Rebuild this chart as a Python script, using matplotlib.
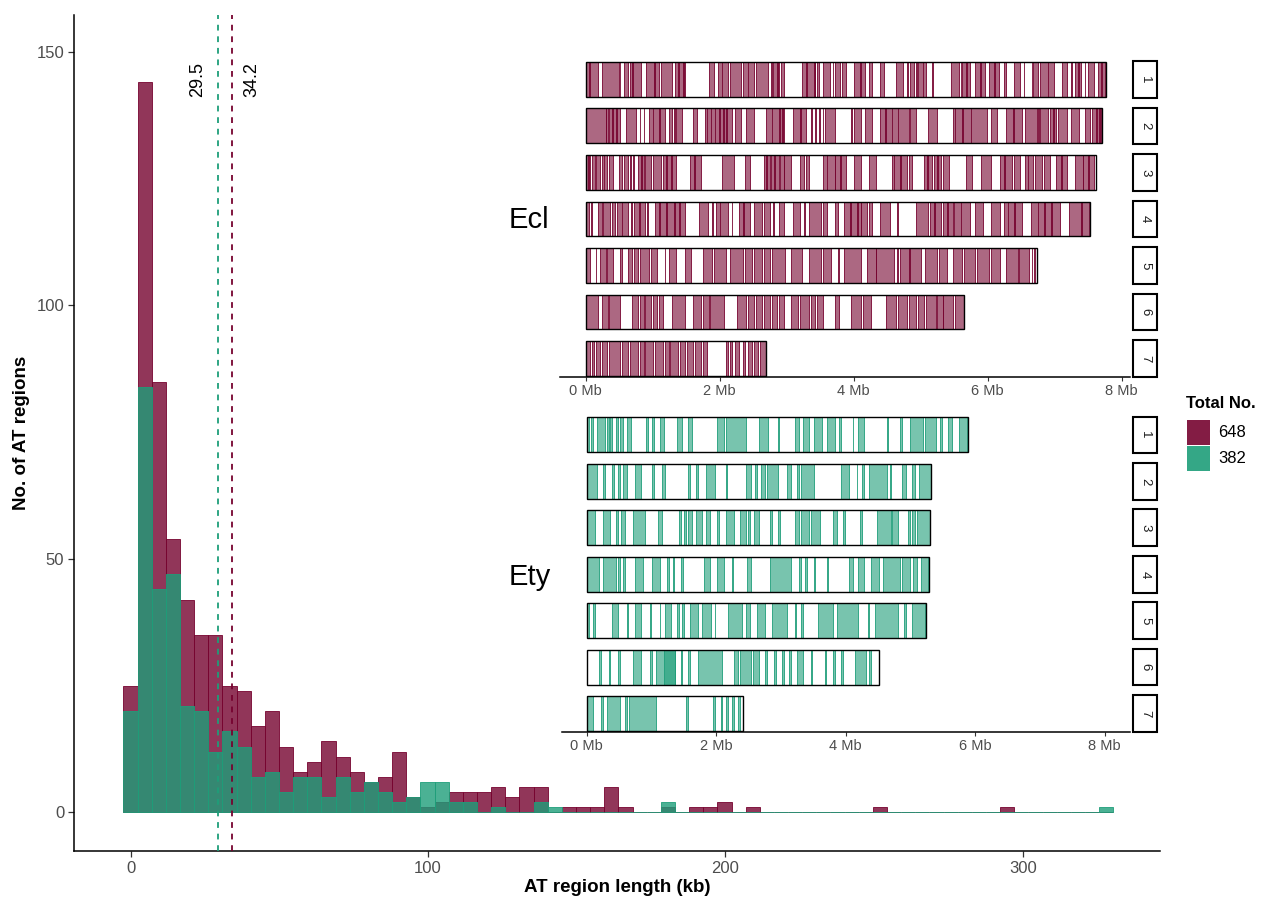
import numpy as np
import matplotlib
matplotlib.use("Agg")
import matplotlib.pyplot as plt
from matplotlib.patches import Rectangle
from matplotlib.colors import to_rgba
from matplotlib import transforms

plt.rcParams['font.family'] = ['Liberation Sans', 'DejaVu Sans']

# ---------------- data ----------------
MAROON = "#76032F"
GREEN = "#1E9E79"

bin_width = 4.754  # kb
ecl_counts = [25, 144, 85, 54, 42, 35, 35, 25, 24, 17,
              20, 13, 8, 10, 14, 11, 8, 6, 7, 12,
              3, 1, 2, 4, 4, 4, 5, 3, 5, 5,
              0, 1, 1, 1, 5, 1, 0, 0, 1, 0,
              1, 1, 2, 0, 1, 0, 0, 0, 0, 0,
              0, 0, 0, 1, 0, 0, 0, 0, 0, 0,
              0, 0, 1, 0, 0, 0, 0, 0, 0, 0]
ety_counts = [20, 84, 44, 47, 21, 20, 12, 16, 13, 7,
              8, 4, 7, 7, 3, 7, 4, 6, 4, 2,
              3, 6, 6, 2, 2, 0, 1, 0, 0, 2,
              1, 0, 0, 0, 0, 0, 0, 0, 2, 0,
              0, 0, 0, 0, 0, 0, 0, 0, 0, 0,
              0, 0, 0, 0, 0, 0, 0, 0, 0, 0,
              0, 0, 0, 0, 0, 0, 0, 0, 0, 1]
mean_ety = 29.5
mean_ecl = 34.2
legend_totals = ["648", "382"]

# chromosome lengths (Mb)
ecl_lengths = [7.77, 7.71, 7.62, 7.53, 6.74, 5.65, 2.69]
ety_lengths = [5.89, 5.32, 5.30, 5.29, 5.24, 4.52, 2.42]

# AT-rich regions (start, end) in Mb, per chromosome
ecl_chr1 = [(0.01, 0.18), (0.05, 0.06), (0.24, 0.50), (0.51, 0.52), (0.58, 0.63), (0.67, 0.83), (0.70, 0.71),
            (0.91, 1.09), (1.02, 1.03), (1.12, 1.29), (1.33, 1.49), (1.38, 1.39), (1.46, 1.47), (1.85, 1.92),
            (1.98, 2.12), (2.03, 2.04), (2.15, 2.32), (2.35, 2.51), (2.42, 2.43), (2.55, 2.72), (2.77, 2.79),
            (2.80, 2.89), (2.86, 2.87), (2.92, 2.97), (3.23, 3.43), (3.29, 3.30), (3.41, 3.42), (3.46, 3.48),
            (3.54, 3.65), (3.69, 3.70), (3.72, 3.80), (3.83, 3.89), (4.00, 4.17), (4.10, 4.11), (4.23, 4.28),
            (4.40, 4.46), (4.63, 4.74), (4.80, 4.81), (4.85, 4.91), (4.94, 4.95), (4.97, 5.08), (5.03, 5.04),
            (5.17, 5.18), (5.45, 5.57), (5.60, 5.61), (5.62, 5.74), (5.68, 5.69), (5.81, 5.97), (5.89, 5.90),
            (6.02, 6.17), (6.10, 6.11), (6.25, 6.28), (6.39, 6.48), (6.54, 6.55), (6.66, 6.67), (6.68, 6.76),
            (6.79, 6.99), (6.90, 6.91), (7.11, 7.19), (7.25, 7.26), (7.30, 7.39), (7.35, 7.36), (7.45, 7.46),
            (7.50, 7.59), (7.65, 7.76), (7.70, 7.71)]
ecl_chr2 = [(0.01, 0.30), (0.31, 0.34), (0.35, 0.52), (0.40, 0.41), (0.46, 0.47), (0.61, 0.75), (0.81, 0.82),
            (0.87, 0.88), (0.95, 1.18), (1.00, 1.01), (1.10, 1.11), (1.24, 1.29), (1.32, 1.33), (1.35, 1.44),
            (1.61, 1.66), (1.78, 2.18), (1.81, 1.82), (1.87, 1.88), (1.93, 1.94), (1.99, 2.00), (2.05, 2.06),
            (2.10, 2.11), (2.23, 2.32), (2.40, 2.52), (2.69, 2.97), (2.78, 2.79), (2.89, 2.90), (2.94, 2.95),
            (3.09, 3.29), (3.20, 3.21), (3.37, 3.38), (3.43, 3.44), (3.49, 3.50), (3.54, 3.55), (3.57, 3.72),
            (3.97, 3.98), (4.00, 4.11), (4.17, 4.28), (4.40, 4.83), (4.47, 4.48), (4.57, 4.58), (4.66, 4.67),
            (4.85, 4.94), (5.11, 5.25), (5.48, 5.99), (5.51, 5.52), (5.62, 5.63), (5.75, 5.76), (6.05, 6.14),
            (6.28, 6.51), (6.38, 6.39), (6.56, 6.74), (6.76, 6.77), (6.79, 6.91), (6.93, 7.02), (6.98, 6.99),
            (7.05, 7.19), (7.25, 7.36), (7.45, 7.53), (7.56, 7.70), (7.62, 7.63), (7.67, 7.68)]
ecl_chr3 = [(0.01, 0.07), (0.04, 0.05), (0.10, 0.14), (0.15, 0.21), (0.24, 0.32), (0.27, 0.28), (0.35, 0.41),
            (0.50, 0.55), (0.58, 0.64), (0.67, 0.68), (0.71, 0.73), (0.78, 0.87), (0.83, 0.84), (0.89, 0.98),
            (1.01, 1.12), (1.15, 1.35), (1.20, 1.21), (1.28, 1.29), (1.56, 1.72), (1.62, 1.63), (2.03, 2.21),
            (2.38, 2.46), (2.66, 2.75), (2.70, 2.71), (2.77, 2.89), (2.82, 2.83), (2.91, 2.97), (2.97, 3.06),
            (3.20, 3.26), (3.29, 3.34), (3.54, 3.72), (3.60, 3.61), (3.72, 3.89), (3.80, 3.81), (4.00, 4.11),
            (4.23, 4.34), (4.57, 4.80), (4.60, 4.61), (4.70, 4.71), (4.83, 4.88), (5.05, 5.17), (5.10, 5.11),
            (5.20, 5.31), (5.25, 5.26), (5.34, 5.42), (5.68, 5.77), (5.91, 6.05), (6.19, 6.36), (6.25, 6.26),
            (6.39, 6.48), (6.56, 6.68), (6.60, 6.61), (6.71, 6.82), (6.85, 6.93), (7.02, 7.19), (7.10, 7.11),
            (7.30, 7.42), (7.42, 7.59), (7.50, 7.51)]
ecl_chr4 = [(0.00, 0.05), (0.08, 0.10), (0.18, 0.24), (0.26, 0.36), (0.40, 0.44), (0.47, 0.64), (0.54, 0.55),
            (0.68, 0.69), (0.72, 0.89), (0.80, 0.81), (0.92, 0.93), (1.04, 1.49), (1.10, 1.11), (1.20, 1.21),
            (1.32, 1.33), (1.40, 1.41), (1.69, 1.83), (1.89, 1.90), (1.95, 2.12), (2.00, 2.01), (2.18, 2.19),
            (2.29, 2.46), (2.35, 2.36), (2.52, 2.63), (2.66, 2.75), (2.80, 2.81), (2.89, 2.97), (3.09, 3.20),
            (3.26, 3.27), (3.34, 3.52), (3.54, 3.60), (3.72, 3.77), (3.86, 4.11), (3.95, 3.96), (4.05, 4.06),
            (4.11, 4.20), (4.23, 4.28), (4.40, 4.54), (4.65, 4.66), (4.94, 5.11), (5.14, 5.30), (5.20, 5.21),
            (5.33, 5.48), (5.40, 5.41), (5.50, 5.74), (5.60, 5.61), (5.82, 5.94), (6.05, 6.19), (6.25, 6.51),
            (6.30, 6.31), (6.40, 6.41), (6.65, 7.08), (6.75, 6.76), (6.85, 6.86), (6.95, 6.96), (7.22, 7.52),
            (7.40, 7.41)]
ecl_chr5 = [(0.00, 0.07), (0.15, 0.16), (0.21, 0.30), (0.32, 0.41), (0.52, 0.54), (0.64, 0.70), (0.72, 0.78),
            (0.81, 0.95), (0.98, 1.07), (1.18, 1.19), (1.24, 1.35), (1.49, 1.58), (1.75, 1.89), (1.92, 2.09),
            (2.15, 2.35), (2.38, 2.49), (2.52, 2.63), (2.66, 2.75), (2.78, 2.98), (3.06, 3.23), (3.34, 3.52),
            (3.54, 3.66), (3.77, 3.78), (3.86, 4.11), (4.20, 4.34), (4.34, 4.60), (4.65, 4.66), (4.70, 4.84),
            (4.83, 5.00), (5.06, 5.25), (5.28, 5.40), (5.48, 5.62), (5.65, 5.82), (5.85, 6.02), (6.05, 6.19),
            (6.27, 6.45), (6.47, 6.62), (6.66, 6.67), (6.70, 6.71)]
ecl_chr6 = [(0.00, 0.18), (0.24, 0.33), (0.35, 0.52), (0.70, 0.78), (0.81, 0.87), (0.89, 0.98), (1.01, 1.07),
            (1.09, 1.15), (1.29, 1.49), (1.61, 1.72), (1.75, 1.84), (1.86, 2.06), (2.26, 2.40), (2.43, 2.52),
            (2.55, 2.63), (2.66, 2.75), (2.78, 2.86), (2.89, 2.97), (3.06, 3.17), (3.20, 3.34), (3.37, 3.43),
            (3.46, 3.54), (3.72, 3.78), (3.97, 4.11), (4.14, 4.26), (4.48, 4.63), (4.66, 4.80), (4.83, 4.94),
            (4.97, 5.05), (5.08, 5.23), (5.25, 5.34), (5.34, 5.48), (5.51, 5.65)]
ecl_chr7 = [(0.00, 0.07), (0.10, 0.12), (0.15, 0.21), (0.24, 0.32), (0.35, 0.52), (0.55, 0.64), (0.67, 0.78),
            (0.81, 0.87), (0.89, 1.01), (1.04, 1.15), (1.18, 1.24), (1.26, 1.38), (1.41, 1.49), (1.52, 1.61),
            (1.64, 1.72), (1.75, 1.82), (2.09, 2.12), (2.15, 2.18), (2.23, 2.29), (2.35, 2.38), (2.43, 2.49),
            (2.52, 2.58), (2.60, 2.69)]

ety_chr1 = [(0.01, 0.04), (0.07, 0.10), (0.16, 0.28), (0.31, 0.34), (0.37, 0.39), (0.45, 0.48), (0.51, 0.57),
            (0.63, 0.69), (0.92, 0.95), (1.01, 1.04), (1.13, 1.19), (1.40, 1.48), (1.57, 1.63), (2.01, 2.13),
            (2.16, 2.46), (2.66, 2.81), (2.96, 2.97), (3.22, 3.28), (3.34, 3.43), (3.52, 3.64), (3.72, 3.84),
            (3.90, 3.93), (4.11, 4.12), (4.19, 4.28), (4.64, 4.65), (4.84, 4.87), (4.99, 5.20), (5.23, 5.40),
            (5.46, 5.49), (5.58, 5.64), (5.76, 5.87)]
ety_chr2 = [(0.00, 0.16), (0.25, 0.28), (0.39, 0.42), (0.48, 0.51), (0.57, 0.63), (0.75, 0.84), (1.01, 1.04),
            (1.16, 1.22), (1.57, 1.60), (1.69, 1.72), (1.84, 1.99), (2.16, 2.17), (2.46, 2.54), (2.60, 2.63),
            (2.69, 2.75), (2.78, 2.96), (3.10, 3.16), (3.25, 3.28), (3.31, 3.52), (3.93, 4.05), (4.17, 4.18),
            (4.25, 4.28), (4.37, 4.64), (4.69, 4.70), (4.87, 4.93), (5.02, 5.08), (5.14, 5.32)]
ety_chr3 = [(0.00, 0.13), (0.25, 0.37), (0.45, 0.48), (0.54, 0.60), (0.72, 0.90), (1.10, 1.16), (1.43, 1.46),
            (1.51, 1.54), (1.57, 1.63), (1.69, 1.78), (1.84, 1.90), (2.01, 2.04), (2.16, 2.28), (2.37, 2.46),
            (2.49, 2.52), (2.58, 2.66), (2.84, 2.87), (2.96, 2.99), (3.22, 3.28), (3.31, 3.43), (3.46, 3.61),
            (3.81, 3.87), (3.96, 3.99), (4.22, 4.25), (4.49, 4.70), (4.72, 4.81), (4.96, 4.99), (5.02, 5.08),
            (5.11, 5.30)]
ety_chr4 = [(0.00, 0.19), (0.25, 0.45), (0.48, 0.51), (0.57, 0.60), (0.75, 0.87), (1.01, 1.13), (1.25, 1.28),
            (1.34, 1.35), (1.46, 1.49), (1.81, 1.90), (2.01, 2.13), (2.25, 2.26), (2.48, 2.54), (2.84, 3.16),
            (3.28, 3.31), (3.37, 3.40), (3.52, 3.53), (3.72, 3.73), (4.05, 4.11), (4.19, 4.28), (4.40, 4.52),
            (4.58, 4.84), (4.87, 4.99), (5.05, 5.11), (5.17, 5.27)]
ety_chr5 = [(0.00, 0.04), (0.10, 0.13), (0.39, 0.48), (0.63, 0.64), (0.75, 0.84), (0.98, 0.99), (1.13, 1.14),
            (1.22, 1.31), (1.40, 1.43), (1.48, 1.51), (1.60, 1.72), (1.78, 1.93), (1.98, 1.99), (2.19, 2.40),
            (2.46, 2.52), (2.63, 2.75), (2.87, 3.10), (3.22, 3.23), (3.31, 3.34), (3.58, 3.81), (3.87, 4.19),
            (4.34, 4.37), (4.46, 4.81), (4.90, 4.93), (5.02, 5.23)]
ety_chr6 = [(0.19, 0.22), (0.34, 0.37), (0.48, 0.51), (0.72, 0.84), (0.98, 1.01), (1.07, 1.37), (1.20, 1.37),
            (1.46, 1.48), (1.57, 1.60), (1.72, 2.10), (2.28, 2.34), (2.37, 2.54), (2.57, 2.66), (2.75, 2.78),
            (2.90, 2.93), (3.02, 3.05), (3.13, 3.16), (3.25, 3.34), (3.46, 3.49), (3.69, 3.70), (3.81, 3.84),
            (3.93, 3.96), (4.14, 4.31), (4.37, 4.40)]
ety_chr7 = [(0.00, 0.10), (0.22, 0.25), (0.31, 0.51), (0.60, 0.63), (0.66, 1.07), (1.54, 1.57), (1.96, 1.99),
            (2.07, 2.10), (2.16, 2.19), (2.25, 2.28), (2.34, 2.37)]

ecl_regions = [ecl_chr1, ecl_chr2, ecl_chr3, ecl_chr4, ecl_chr5, ecl_chr6, ecl_chr7]
ety_regions = [ety_chr1, ety_chr2, ety_chr3, ety_chr4, ety_chr5, ety_chr6, ety_chr7]
chrom_names = ["1", "2", "3", "4", "5", "6", "7"]
mb_ticks = [0, 2, 4, 6, 8]
mb_labels = ["0 Mb", "2 Mb", "4 Mb", "6 Mb", "8 Mb"]

# ---------------- figure ----------------
W, H = 1274, 899
fig = plt.figure(figsize=(W / 100, H / 100), dpi=100)


def fx(x):
    return x / W


def fy(y):
    return 1 - y / H


def box(left, top, right, bottom):
    return [fx(left), fy(bottom), fx(right) - fx(left), fy(top) - fy(bottom)]


AXIS_TEXT = "#4D4D4D"
TICK_COL = "#333333"

# ---- histogram of AT region lengths ----
ax = fig.add_axes(box(74, 15, 1160, 851))
centers = np.arange(len(ecl_counts)) * bin_width
ax.bar(centers, ecl_counts, width=bin_width, facecolor=to_rgba(MAROON, 0.8),
       edgecolor=MAROON, linewidth=0.6, zorder=2)
ax.bar(centers, ety_counts, width=bin_width, facecolor=to_rgba(GREEN, 0.8),
       edgecolor=GREEN, linewidth=0.6, zorder=3)

ax.axvline(mean_ety, color=GREEN, linestyle=(0, (3.2, 3.2)), linewidth=1.3, zorder=4)
ax.axvline(mean_ecl, color=MAROON, linestyle=(0, (3.2, 3.2)), linewidth=1.3, zorder=4)
ax.text(mean_ety - 6.8, 144.5, f"{mean_ety}", rotation=90, ha="center", va="center",
        fontsize=13, color="black")
ax.text(mean_ecl + 6.7, 144.5, f"{mean_ecl}", rotation=90, ha="center", va="center",
        fontsize=13, color="black")

ax.set_xlim(-19.0, 346.1)
ax.set_ylim(-7.6, 157.3)
ax.set_xticks([0, 100, 200, 300])
ax.set_yticks([0, 50, 100, 150])
for s in ["top", "right"]:
    ax.spines[s].set_visible(False)
for s in ["left", "bottom"]:
    ax.spines[s].set_linewidth(1.1)
    ax.spines[s].set_color("black")
ax.tick_params(axis="both", direction="out", length=4, width=0.9, color=TICK_COL,
               labelsize=12, labelcolor=AXIS_TEXT, pad=3)

fig.text(fx(617), fy(888), "AT region length (kb)", ha="center", va="center",
         fontsize=13.5, fontweight="bold")
fig.text(fx(22), fy(433), "No. of AT regions", ha="center", va="center",
         rotation=90, fontsize=13.5, fontweight="bold")


# ---- chromosome maps ----
def chrom_panel(rect, xlim, lengths, regions, color, name, name_y):
    a = fig.add_axes(rect)
    a.patch.set_alpha(0)
    half = 0.376
    for i, (length, regs) in enumerate(zip(lengths, regions), start=1):
        for s, e in regs:
            a.add_patch(Rectangle((s, i - half), e - s, 2 * half,
                                  facecolor=to_rgba(color, 0.6), edgecolor=color,
                                  linewidth=0.6, zorder=2))
        a.add_patch(Rectangle((0, i - half), length, 2 * half, fill=False,
                              edgecolor="black", linewidth=1.0, zorder=3))
    a.set_xlim(*xlim)
    a.set_ylim(7.398, 0.452)
    for s in ["top", "right", "left"]:
        a.spines[s].set_visible(False)
    a.spines["bottom"].set_linewidth(1.1)
    a.spines["bottom"].set_color("black")
    a.set_yticks([])
    a.set_xticks(mb_ticks)
    a.set_xticklabels(mb_labels)
    a.tick_params(axis="x", direction="out", length=3, width=0.8, color=TICK_COL,
                  labelsize=10.5, labelcolor=AXIS_TEXT, pad=2)
    strip_tf = transforms.blended_transform_factory(a.transAxes, a.transData)
    for i, lab in enumerate(chrom_names, start=1):
        a.add_patch(Rectangle((1.006, i - 0.395), 0.041, 0.79, transform=strip_tf,
                              facecolor="white", edgecolor="black", linewidth=1.5,
                              clip_on=False, zorder=4))
        a.text(1.0265, i, lab, transform=strip_tf, rotation=-90, ha="center",
               va="center", fontsize=9.5, color="#1A1A1A", zorder=5)
    fig.text(fx(509), fy(name_y), name, ha="left", va="center", fontsize=21)
    return a


chrom_panel(box(560, 54, 1130, 377), ((560 - 585.5) / 67, (1130 - 585.5) / 67),
            ecl_lengths, ecl_regions, MAROON, "Ecl", 220)
chrom_panel(box(562, 409.5, 1130, 732), ((562 - 586.5) / 64.75, (1130 - 586.5) / 64.75),
            ety_lengths, ety_regions, GREEN, "Ety", 577)

# ---- legend ----
fig.text(fx(1186), fy(403), "Total No.", ha="left", va="center", fontsize=12,
         fontweight="bold")
for k, (col, lab) in enumerate(zip([MAROON, GREEN], legend_totals)):
    top = 420 + k * 26
    fig.add_artist(Rectangle((fx(1187), fy(top + 25)), fx(23), 25 / H,
                             transform=fig.transFigure, facecolor=to_rgba(col, 0.9),
                             edgecolor="none"))
    fig.text(fx(1218), fy(top + 13), lab, ha="left", va="center", fontsize=12)

fig.savefig("out.png", dpi=100)
